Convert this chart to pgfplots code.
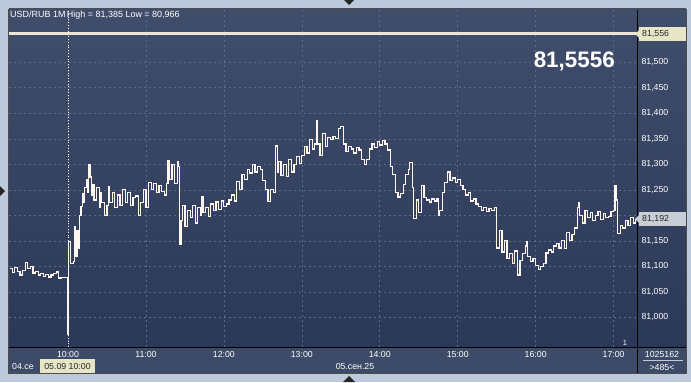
\documentclass[border=0pt]{standalone}
\usepackage{pgfplots}
\pgfplotsset{compat=1.18}
\usepackage{fontspec}
\setmainfont{Liberation Sans}
\definecolor{frame}{HTML}{BCCADB}
\definecolor{plottop}{HTML}{404D6B}
\definecolor{plotbot}{HTML}{2B3857}
\definecolor{panelb}{HTML}{3D4A68}
\definecolor{gridc}{HTML}{5A6A8C}
\definecolor{cream}{HTML}{EDE6D6}
\definecolor{boxy}{HTML}{E6E6C6}
\definecolor{boxg}{HTML}{C9CDD6}
\definecolor{barc}{HTML}{FFF6F0}
\begin{document}
\begin{tikzpicture}[x=1bp,y=1bp]
\useasboundingbox (0,0) rectangle (691,382);
\fill[frame] (0,0) rectangle (691,382);
\fill[panelb] (8,9) rectangle (686,35);
\shade[top color=plottop, bottom color=plotbot] (637,35) rectangle (686,373);
\begin{axis}[
  at={(9bp,35bp)}, anchor=south west, scale only axis,
  width=628bp, height=338bp,
  xmin=-45.4, xmax=438, ymin=80.9418, ymax=81.6045,
  axis line style={draw=none},
  axis background/.style={top color=plottop, bottom color=plotbot},
  xtick={0,60,120,180,240,300,360,420},
  xticklabels={10:00,11:00,12:00,13:00,14:00,15:00,16:00,17:00},
  ytick={81,81.05,81.1,81.15,81.2,81.25,81.3,81.35,81.4,81.45,81.5},
  yticklabels={{81,000},{81,050},{81,100},{81,150},{},{81,250},{81,300},{81,350},{81,400},{81,450},{81,500}},
  yticklabel pos=right,
  grid=major,
  major grid style={gridc, dash pattern=on 2bp off 3bp, line width=0.6bp},
  major tick length=0,
  ticklabel style={font=\fontsize{8.8}{10}\selectfont, text=white},
  xticklabel style={yshift=-1bp},
  yticklabel style={anchor=west, xshift=1bp},
]
\addplot[cream, line width=2.5bp] coordinates {(-45.4,81.556) (438,81.556)};
\addplot[barc, const plot, line width=1.2bp] coordinates {
(-45,81.095) (-43,81.088) (-41,81.098) (-39,81.090) (-37,81.083) (-35,81.092) (-33,81.108) (-31,81.095)
(-29,81.100) (-27,81.087) (-25,81.090) (-23,81.083) (-21,81.086) (-19,81.080) (-17,81.084) (-15,81.079)
(-13,81.083) (-11,81.086) (-9,81.089) (-7,81.077) (-5,81.078) (-3,81.078) (-1,81.078) (-0.5,81.053)
(0,80.966) (0.5,81.148) (2,81.106) (4,81.110) (5,81.178) (6,81.119) (7,81.170) (8,81.136)
(9,81.200) (10,81.217) (11,81.243) (12,81.225) (13,81.255) (14,81.270) (15,81.245) (16,81.299)
(17,81.275) (18,81.240) (19,81.260) (20,81.230) (22,81.255) (24,81.215) (25,81.245) (26,81.225)
(28,81.200) (30,81.220) (31,81.256) (32,81.225) (34,81.245) (36,81.215) (38,81.240) (40,81.220)
(42,81.250) (44,81.225) (46,81.245) (48,81.220) (50,81.235) (52,81.238) (54,81.200) (56,81.225)
(58,81.250) (60,81.215) (62,81.265) (64,81.250) (66,81.262) (68,81.245) (70,81.258) (72,81.246)
(74,81.240) (76,81.262) (77,81.308) (78,81.270) (80,81.300) (82,81.262) (84,81.305) (85,81.295)
(86,81.142) (87,81.190) (88,81.220) (90,81.178) (92,81.210) (94,81.195) (96,81.220) (98,81.185)
(100,81.215) (102,81.200) (103,81.236) (104,81.205) (106,81.215) (108,81.198) (110,81.222) (112,81.210)
(114,81.226) (116,81.212) (118,81.228) (120,81.218) (122,81.222) (124,81.230) (126,81.240) (128,81.228)
(130,81.266) (132,81.250) (134,81.280) (136,81.270) (138,81.290) (140,81.283) (142,81.300) (144,81.285)
(146,81.295) (148,81.290) (150,81.268) (152,81.250) (154,81.227) (156,81.250) (158,81.245) (160,81.336)
(161,81.285) (162,81.305) (164,81.278) (166,81.300) (168,81.276) (170,81.310) (172,81.285) (174,81.300)
(176,81.315) (178,81.302) (180,81.318) (182,81.335) (184,81.322) (186,81.348) (188,81.330) (190,81.340)
(191,81.385) (192,81.340) (194,81.318) (196,81.361) (198,81.335) (200,81.352) (202,81.348) (204,81.355)
(206,81.350) (208,81.370) (210,81.374) (212,81.340) (214,81.325) (216,81.335) (218,81.330) (220,81.322)
(222,81.333) (224,81.328) (226,81.310) (228,81.300) (230,81.310) (232,81.330) (234,81.340) (236,81.333)
(238,81.345) (240,81.338) (242,81.346) (244,81.340) (246,81.328) (248,81.295) (250,81.280) (252,81.245)
(254,81.236) (256,81.243) (258,81.260) (260,81.280) (262,81.290) (263,81.304) (265,81.255) (266,81.194)
(268,81.230) (270,81.205) (272,81.258) (274,81.235) (276,81.230) (278,81.226) (280,81.232) (282,81.228)
(284,81.233) (285,81.200) (286,81.210) (288,81.245) (290,81.265) (292,81.285) (294,81.268) (296,81.273)
(298,81.265) (300,81.270) (302,81.258) (304,81.250) (306,81.240) (308,81.245) (310,81.228) (312,81.232)
(314,81.222) (316,81.218) (318,81.210) (320,81.215) (322,81.208) (324,81.214) (326,81.210) (328,81.216)
(330,81.136) (332,81.170) (334,81.128) (336,81.150) (338,81.115) (340,81.125) (342,81.105) (344,81.130)
(346,81.083) (348,81.112) (350,81.125) (352,81.140) (353,81.148) (354,81.120) (356,81.110) (358,81.115)
(360,81.102) (362,81.093) (364,81.100) (366,81.106) (368,81.126) (370,81.132) (372,81.128) (374,81.140)
(376,81.145) (378,81.136) (380,81.150) (382,81.135) (384,81.167) (386,81.150) (388,81.162) (390,81.175)
(392,81.215) (393,81.224) (394,81.200) (396,81.185) (398,81.210) (400,81.195) (402,81.205) (404,81.190)
(406,81.200) (408,81.208) (410,81.192) (412,81.203) (414,81.196) (416,81.198) (418,81.207) (420,81.210)
(421,81.259) (422,81.230) (423,81.165) (425,81.180) (427,81.175) (429,81.190) (431,81.180) (433,81.195)
(435,81.185) (437,81.192)
};
\draw[white, dotted, line width=0.8bp] (axis cs:0,80.9418) -- (axis cs:0,81.6045);
\end{axis}
% frame lines
\draw[black, line width=0.8bp] (8,35) -- (686,35);
\draw[black, line width=0.8bp] (637.5,9) -- (637.5,373);
\draw[black!70, line width=0.6bp] (8,9) rectangle (686,373);
% title
\node[anchor=west, text=white, font=\fontsize{9}{10}\selectfont, inner sep=0] at (10,367) {USD/RUB 1M\hspace{1.5bp}High = 81,385 Low = 80,966};
% big price
\node[anchor=base east, text=white, font=\fontsize{22.5}{24}\selectfont\bfseries, inner sep=0] at (615,315) {81,5556};
% right boxes
\fill[boxy] (639,341) rectangle (686,355);
\fill[boxy] (635,348) -- (639,352) -- (639,344) -- cycle;
\node[anchor=west, text=black!85, font=\fontsize{8.8}{10}\selectfont, inner sep=0] at (642,348) {81,556};
\fill[boxg] (639,156) rectangle (686,170);
\fill[boxg] (635,163) -- (639,167) -- (639,159) -- cycle;
\node[anchor=west, text=black!85, font=\fontsize{8.8}{10}\selectfont, inner sep=0] at (642,163) {81,192};
% bottom
\node[text=white, font=\fontsize{8.8}{10}\selectfont, inner sep=0] at (355,16) {05.сен.25};
\node[anchor=west, text=white, font=\fontsize{8.8}{10}\selectfont, inner sep=0] at (12,16) {04.се};
\fill[boxy] (40,9.5) rectangle (95,23);
\node[text=black!85, font=\fontsize{8.8}{10}\selectfont, inner sep=0] at (67.5,16) {05.09 10:00};
\node[text=white, font=\fontsize{8.8}{10}\selectfont, inner sep=0] at (662,28) {1025162};
\draw[white!70!panelb, line width=0.5bp] (643,22) -- (683,22);
\node[text=white, font=\fontsize{8.8}{10}\selectfont, inner sep=0] at (662,15) {>485<};
\node[text=white, font=\fontsize{7.5}{9}\selectfont, inner sep=0] at (625,39) {1};
% triangles
\fill[black!85] (344,382) -- (354,382) -- (349,377) -- cycle;
\fill[black!85] (343,0) -- (355,0) -- (349,6) -- cycle;
\fill[black!85] (0,186) -- (0,196) -- (5,191) -- cycle;
\end{tikzpicture}
\end{document}
